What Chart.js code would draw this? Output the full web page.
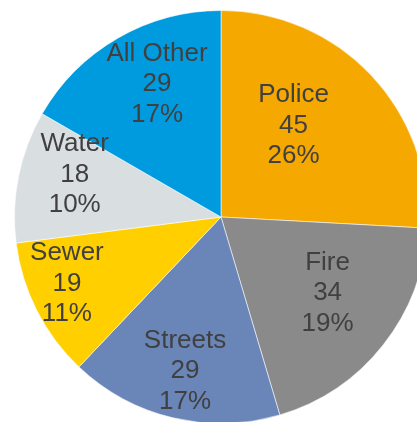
<!DOCTYPE html>
<html>
<head>
<meta charset="utf-8">
<script src="https://cdn.jsdelivr.net/npm/chart.js@4.4.1/dist/chart.umd.min.js"></script>
<style>
  html, body { margin: 0; padding: 0; background: #fff; width: 417px; height: 422px; overflow: hidden; position: relative; }
  #mycanvas { position: absolute; left: 14px; top: 10px; }
</style>
</head>
<body>
<canvas id="mycanvas" width="414" height="414"></canvas>
<script>
// chart data
var categories = ['Police', 'Fire', 'Streets', 'Sewer', 'Water', 'All Other'];
var counts = [45, 34, 29, 19, 18, 29];
var percentLabels = ['26%', '19%', '17%', '11%', '10%', '17%'];

var sliceColors = ['#F5A800', '#8A8A8B', '#6A85B8', '#FFCF00', '#D9DEE1', '#009BDE'];

// where each label sits: fraction of radius, and turn (degrees) from mid-angle
var labelPlace = {
	radius: [0.57, 0.63, 0.76, 0.81, 0.74, 0.72],
	turn: [-8.5, -3.3, -0.2, 4, 5.4, 4.5]
};

var sliceLabels = {
	id: 'sliceLabels',
	afterDatasetsDraw: function(chart) {
		var ctx = chart.ctx;
		var meta = chart.getDatasetMeta(0);
		ctx.save();
		ctx.font = '26px "Liberation Sans", Arial, sans-serif';
		ctx.fillStyle = '#404040';
		ctx.textAlign = 'center';
		ctx.textBaseline = 'middle';
		meta.data.forEach(function(arc, i) {
			var p = arc.getProps(['x', 'y', 'startAngle', 'endAngle', 'outerRadius'], true);
			var mid = (p.startAngle + p.endAngle) / 2 + labelPlace.turn[i] * Math.PI / 180;
			var r = p.outerRadius * labelPlace.radius[i];
			var x = p.x + Math.cos(mid) * r;
			var y = p.y + Math.sin(mid) * r + 1.5;
			var lines = [categories[i], String(counts[i]), percentLabels[i]];
			var lh = 30.5;
			for (var k = 0; k < lines.length; k++) {
				ctx.fillText(lines[k], x, y + (k - 1) * lh);
			}
		});
		ctx.restore();
	}
};

var ctx = document.getElementById('mycanvas');

var pieChart = new Chart(ctx, {
	type: 'pie',
	data: {
		labels: categories,
		datasets: [{
			data: counts,
			backgroundColor: sliceColors,
			borderColor: 'rgba(255,255,255,0.55)',
			borderWidth: 1
		}]
	},
	options: {
		responsive: false,
		devicePixelRatio: 1,
		animation: false,
		layout: { padding: 0 },
		plugins: {
			legend: { display: false },
			tooltip: { enabled: false }
		}
	},
	plugins: [sliceLabels]
});
</script>
</body>
</html>
